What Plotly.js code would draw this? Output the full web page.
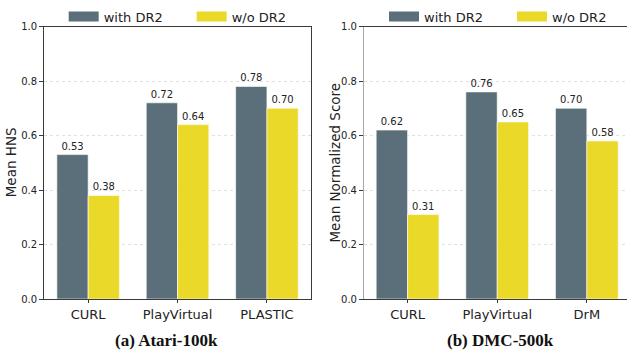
<!DOCTYPE html>
<html>
<head>
<meta charset="utf-8">
<script src="https://cdn.plot.ly/plotly-3.0.1.min.js"></script>
<style>html,body{margin:0;padding:0;background:#fff;}#chart{width:640px;height:354px;}</style>
</head>
<body>
<div id="chart"></div>
<script>
// ---- data ----
const categoriesA = ["CURL", "PlayVirtual", "PLASTIC"];
const withDR2_A = [0.53, 0.72, 0.78];
const withoutDR2_A = [0.38, 0.64, 0.70];

const categoriesB = ["CURL", "PlayVirtual", "DrM"];
const withDR2_B = [0.62, 0.76, 0.70];
const withoutDR2_B = [0.31, 0.65, 0.58];

const seriesNames = ["with DR2", "w/o DR2"];
const yTicks = [0, 0.2, 0.4, 0.6, 0.8, 1.0];
const panelTitles = ["(a) Atari-100k", "(b) DMC-500k"];
const yTitles = ["Mean HNS", "Mean Normalized Score"];

// ---- styles ----
const GRAY = "#5b6f7a";
const YELLOW = "#ebd92a";
const FONT = "DejaVu Sans, sans-serif";
const W = 640, H = 354;

function barTrace(x, y, name, color, xa, ya) {
  return {
    type: "bar", x: x, y: y, name: name, xaxis: xa, yaxis: ya,
    marker: {color: color, line: {color: "#ffffff", width: 0.6}},
    text: y.map(v => v.toFixed(2)), textposition: "outside",
    textfont: {family: FONT, size: 10, color: "#222"},
    cliponaxis: false, showlegend: false, hoverinfo: "x+y"
  };
}
function legendTrace(name, color, xa, ya, lg) {
  return {
    type: "scatter", mode: "lines", x: [null], y: [null], name: name,
    xaxis: xa, yaxis: ya, legend: lg,
    line: {color: color, width: 10}, showlegend: true, hoverinfo: "skip"
  };
}

const traces = [
  barTrace(categoriesA, withDR2_A, seriesNames[0], GRAY, "x", "y"),
  barTrace(categoriesA, withoutDR2_A, seriesNames[1], YELLOW, "x", "y"),
  barTrace(categoriesB, withDR2_B, seriesNames[0], GRAY, "x2", "y2"),
  barTrace(categoriesB, withoutDR2_B, seriesNames[1], YELLOW, "x2", "y2"),
  legendTrace(seriesNames[0], GRAY, "x", "y", "legend"),
  legendTrace(seriesNames[1], YELLOW, "x", "y", "legend"),
  legendTrace(seriesNames[0], GRAY, "x2", "y2", "legend2"),
  legendTrace(seriesNames[1], YELLOW, "x2", "y2", "legend2")
];

const yBottom = (H - 299) / H, yTop = (H - 26.5) / H;

function xAxis(domain, range, cats, mirror) {
  return {
    domain: domain, range: range, type: "category", categoryarray: cats,
    showline: true, linecolor: "#3a3a3a", linewidth: 1, mirror: mirror,
    ticks: "outside", ticklen: 3, tickcolor: "#3a3a3a",
    tickfont: {family: FONT, size: 13, color: "#222"},
    showgrid: false, zeroline: false, fixedrange: true
  };
}
function yAxis(anchor, lineColor, lineWidth, mirror) {
  return {
    anchor: anchor, domain: [yBottom, yTop], range: [0, 1],
    tickvals: yTicks, tickformat: ".1f",
    showline: true, linecolor: lineColor, linewidth: lineWidth, mirror: mirror,
    ticks: "outside", ticklen: 4, tickcolor: "#3a3a3a",
    tickfont: {family: FONT, size: 10, color: "#222"},
    showgrid: true, gridcolor: "#d8d8d8", gridwidth: 0.8, griddash: "dot",
    zeroline: false, fixedrange: true
  };
}

const legendCommon = {
  orientation: "h", yanchor: "middle", xanchor: "left",
  font: {family: FONT, size: 13, color: "#222"},
  bgcolor: "rgba(0,0,0,0)", borderwidth: 0,
  entrywidthmode: "pixels", entrywidth: 83, itemclick: false, itemdoubleclick: false
};

const titleFont = {family: "Liberation Serif, Times New Roman, serif", size: 17, color: "#111"};
const yTitleFont = {family: FONT, size: 13.5, color: "#222"};
const yMid = 1 - 162.5 / H;

const layout = {
  width: W, height: H,
  margin: {l: 0, r: 0, t: 0, b: 0},
  paper_bgcolor: "#ffffff", plot_bgcolor: "#ffffff",
  barmode: "group", bargap: 0.3, bargroupgap: 0,
  xaxis: xAxis([45 / W, 317 / W], [-0.493, 2.488], categoriesA, true),
  yaxis: yAxis("x", "#3a3a3a", 1, true),
  xaxis2: Object.assign(xAxis([372 / W, 1], [-0.481, 2.448], categoriesB, true), {anchor: "y2"}),
  yaxis2: yAxis("x2", "#a8a8a8", 1.5, false),
  legend: Object.assign({}, legendCommon, {x: 65 / W, y: 1 - 16.5 / H}),
  legend2: Object.assign({}, legendCommon, {x: 392 / W, y: 1 - 16.5 / H}),
  annotations: [
    {text: "<b>" + panelTitles[0] + "</b>", xref: "paper", yref: "paper",
     x: 170 / W, y: 1 - 340 / H, xanchor: "center", yanchor: "middle", showarrow: false, font: titleFont},
    {text: "<b>" + panelTitles[1] + "</b>", xref: "paper", yref: "paper",
     x: 511 / W, y: 1 - 340 / H, xanchor: "center", yanchor: "middle", showarrow: false, font: titleFont},
    {text: yTitles[0], xref: "paper", yref: "paper", textangle: -90,
     x: 11 / W, y: yMid, xanchor: "center", yanchor: "middle", showarrow: false, font: yTitleFont},
    {text: yTitles[1], xref: "paper", yref: "paper", textangle: -90,
     x: 341 / W, y: yMid, xanchor: "center", yanchor: "middle", showarrow: false, font: yTitleFont}
  ],
  showlegend: true
};

Plotly.newPlot("chart", traces, layout, {displayModeBar: false, staticPlot: true});
</script>
</body>
</html>
